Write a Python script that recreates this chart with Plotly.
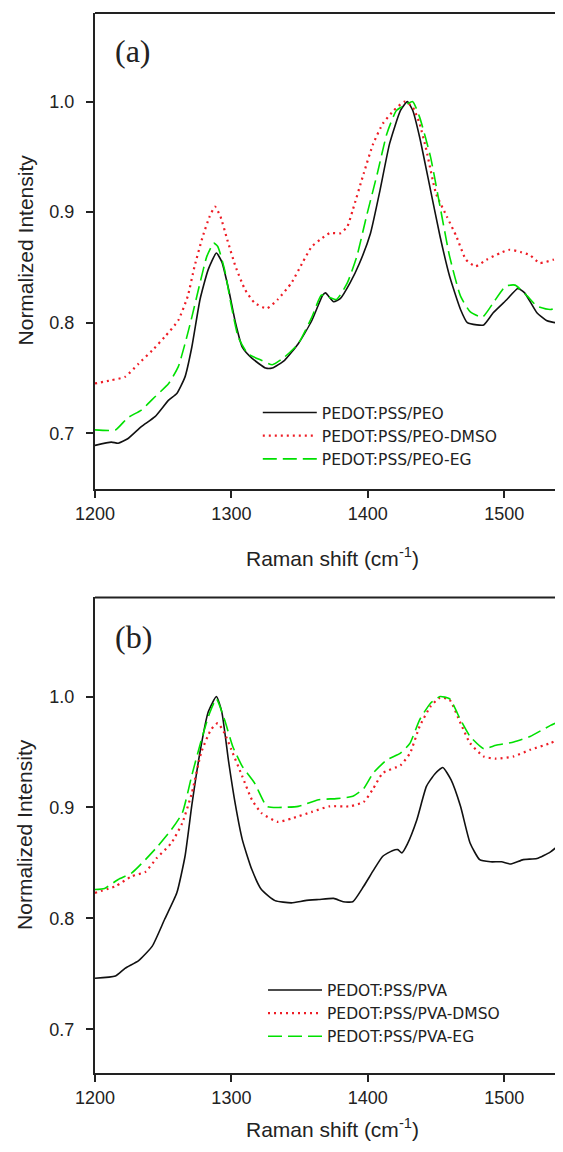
import plotly.graph_objects as go

# ---- panel (a): PEO blends ----
peo_x = [1200, 1212, 1217, 1224, 1234, 1244, 1254, 1260, 1266, 1271, 1277, 1283, 1289, 1293, 1298,
         1303, 1308, 1315, 1325, 1330, 1339, 1349, 1359, 1367, 1369, 1375, 1380, 1387, 1394, 1402,
         1409, 1416, 1424, 1429, 1433, 1438, 1446, 1453, 1460, 1468, 1473, 1480, 1485, 1492, 1502,
         1510, 1515, 1524, 1531, 1538, 1543]
peo_y = [0.689, 0.692, 0.691, 0.695, 0.706, 0.715, 0.730, 0.736, 0.751, 0.778, 0.821, 0.848, 0.863,
         0.855, 0.830, 0.800, 0.778, 0.768, 0.759, 0.759, 0.766, 0.781, 0.802, 0.825, 0.827, 0.819,
         0.822, 0.836, 0.854, 0.881, 0.920, 0.962, 0.992, 1.000, 0.992, 0.968, 0.920, 0.878, 0.842,
         0.812, 0.800, 0.798, 0.798, 0.809, 0.821, 0.831, 0.827, 0.809, 0.802, 0.800, 0.801]

peo_dmso_x = [1200, 1212, 1222, 1232, 1242, 1251, 1261, 1268, 1273, 1279, 1284, 1288, 1292, 1297,
              1303, 1310, 1317, 1326, 1334, 1344, 1352, 1359, 1365, 1372, 1380, 1385, 1389, 1397,
              1404, 1411, 1419, 1427, 1433, 1438, 1443, 1450, 1458, 1465, 1472, 1479, 1487, 1497,
              1504, 1512, 1519, 1526, 1536, 1543]
peo_dmso_y = [0.745, 0.748, 0.751, 0.763, 0.775, 0.787, 0.802, 0.824, 0.851, 0.878, 0.896, 0.905,
              0.896, 0.875, 0.851, 0.830, 0.818, 0.813, 0.821, 0.836, 0.854, 0.869, 0.875, 0.881,
              0.881, 0.887, 0.902, 0.935, 0.962, 0.980, 0.992, 1.000, 0.995, 0.980, 0.956, 0.917,
              0.896, 0.878, 0.857, 0.851, 0.857, 0.863, 0.866, 0.864, 0.861, 0.854, 0.857, 0.860]

peo_eg_x = [1200, 1215, 1224, 1234, 1244, 1254, 1261, 1266, 1271, 1277, 1282, 1287, 1290, 1295,
            1300, 1305, 1312, 1322, 1330, 1339, 1349, 1359, 1366, 1370, 1377, 1385, 1392, 1399,
            1407, 1414, 1421, 1429, 1433, 1438, 1446, 1453, 1460, 1468, 1475, 1484, 1492, 1501,
            1508, 1517, 1524, 1534, 1543]
peo_eg_y = [0.703, 0.703, 0.714, 0.721, 0.733, 0.745, 0.760, 0.781, 0.805, 0.836, 0.860, 0.872,
            0.869, 0.848, 0.815, 0.787, 0.772, 0.766, 0.762, 0.769, 0.781, 0.805, 0.825, 0.824,
            0.821, 0.836, 0.860, 0.896, 0.935, 0.971, 0.992, 0.998, 1.000, 0.986, 0.950, 0.905,
            0.860, 0.824, 0.810, 0.805, 0.818, 0.833, 0.834, 0.824, 0.815, 0.812, 0.816]

# ---- panel (b): PVA blends ----
pva_x = [1200, 1215, 1222, 1232, 1242, 1251, 1260, 1266, 1271, 1277, 1283, 1289, 1293, 1298, 1303,
         1308, 1315, 1322, 1332, 1344, 1354, 1364, 1375, 1382, 1389, 1397, 1404, 1411, 1418, 1422,
         1425, 1429, 1436, 1443, 1449, 1455, 1461, 1468, 1475, 1482, 1490, 1498, 1505, 1514, 1524,
         1534, 1543]
pva_y = [0.746, 0.748, 0.755, 0.762, 0.775, 0.799, 0.823, 0.856, 0.902, 0.950, 0.986, 1.000, 0.986,
         0.941, 0.902, 0.871, 0.844, 0.826, 0.816, 0.814, 0.816, 0.817, 0.818, 0.815, 0.815, 0.829,
         0.843, 0.856, 0.861, 0.862, 0.859, 0.867, 0.889, 0.919, 0.930, 0.936, 0.925, 0.901, 0.868,
         0.853, 0.851, 0.851, 0.849, 0.853, 0.854, 0.860, 0.869]

pva_dmso_x = [1200, 1215, 1227, 1237, 1245, 1256, 1264, 1271, 1278, 1285, 1290, 1295, 1300, 1308,
              1315, 1322, 1334, 1344, 1359, 1372, 1387, 1397, 1404, 1411, 1424, 1431, 1438, 1446,
              1453, 1460, 1468, 1475, 1485, 1494, 1507, 1519, 1534, 1543]
pva_dmso_y = [0.823, 0.829, 0.838, 0.842, 0.854, 0.868, 0.886, 0.913, 0.950, 0.970, 0.976, 0.967,
              0.952, 0.928, 0.907, 0.895, 0.887, 0.890, 0.896, 0.901, 0.901, 0.905, 0.917, 0.931,
              0.938, 0.949, 0.973, 0.991, 0.999, 0.997, 0.976, 0.958, 0.946, 0.944, 0.946, 0.952,
              0.958, 0.963]

pva_eg_x = [1200, 1207, 1217, 1227, 1237, 1246, 1256, 1264, 1271, 1278, 1284, 1289, 1295, 1301,
            1308, 1317, 1326, 1334, 1349, 1364, 1377, 1389, 1397, 1404, 1414, 1424, 1431, 1438,
            1446, 1453, 1460, 1468, 1475, 1485, 1494, 1507, 1519, 1534, 1543]
pva_eg_y = [0.826, 0.827, 0.835, 0.841, 0.853, 0.865, 0.880, 0.895, 0.929, 0.961, 0.985, 0.998,
            0.979, 0.955, 0.937, 0.922, 0.901, 0.900, 0.901, 0.907, 0.908, 0.910, 0.917, 0.931,
            0.943, 0.949, 0.958, 0.979, 0.994, 1.000, 0.998, 0.979, 0.964, 0.953, 0.956, 0.959,
            0.964, 0.974, 0.979]

BLACK = '#111111'
RED = '#ee1c25'
GREEN = '#00e000'
AXIS = '#222222'
TICK_FONT = dict(family='Arial, Liberation Sans', size=18, color=AXIS)

fig = go.Figure()


def add_series(x, y, name, color, dash, width, xa, ya, legend):
    fig.add_trace(
        go.Scatter(
            x=x, y=y, name=name, mode='lines',
            line=dict(color=color, dash=dash, width=width, shape='spline', smoothing=0.5),
            xaxis=xa, yaxis=ya, legend=legend,
        )
    )


add_series(peo_x, peo_y, 'PEDOT:PSS/PEO', BLACK, 'solid', 1.6, 'x', 'y', 'legend')
add_series(peo_dmso_x, peo_dmso_y, 'PEDOT:PSS/PEO-DMSO', RED, '2px,4px', 2.2, 'x', 'y', 'legend')
add_series(peo_eg_x, peo_eg_y, 'PEDOT:PSS/PEO-EG', GREEN, '14px,6px', 1.6, 'x', 'y', 'legend')

add_series(pva_x, pva_y, 'PEDOT:PSS/PVA', BLACK, 'solid', 1.6, 'x2', 'y2', 'legend2')
add_series(pva_dmso_x, pva_dmso_y, 'PEDOT:PSS/PVA-DMSO', RED, '2px,4px', 2.2, 'x2', 'y2', 'legend2')
add_series(pva_eg_x, pva_eg_y, 'PEDOT:PSS/PVA-EG', GREEN, '14px,6px', 1.6, 'x2', 'y2', 'legend2')

# the original panels are cropped on the right; the plot runs past the window edge
xaxis_style = dict(
    range=[1200, 1549], dtick=100, tick0=1200, showline=True, linewidth=2, linecolor=AXIS,
    mirror=False, ticks='outside', ticklen=7, tickwidth=2, tickcolor=AXIS,
    showgrid=False, zeroline=False, tickfont=TICK_FONT,
)
yaxis_style = dict(
    dtick=0.1, tick0=0.7, tickformat='.1f', showline=True, linewidth=2, linecolor=AXIS,
    mirror=False, ticks='outside', ticklen=7, tickwidth=2, tickcolor=AXIS, ticklabelstandoff=8,
    showgrid=False, zeroline=False, tickfont=TICK_FONT,
)

legend_style = dict(
    xanchor='left', yanchor='top', bgcolor='rgba(0,0,0,0)', borderwidth=0,
    font=dict(family='DejaVu Sans', size=15.5, color=AXIS),
    itemwidth=54, tracegroupgap=0,
)

# the page body keeps an 8px margin, so the figure starts 8px in from the corner
fig.update_layout(
    width=563, height=1136,
    margin=dict(l=87, r=0, t=5, b=71),
    paper_bgcolor='white', plot_bgcolor='white',
    xaxis=dict(domain=[0, 1], anchor='y', **xaxis_style),
    yaxis=dict(domain=[0.551, 1.0], anchor='x', range=[0.6496, 1.0802], **yaxis_style),
    xaxis2=dict(domain=[0, 1], anchor='y2', **xaxis_style),
    yaxis2=dict(domain=[0.0, 0.4486], anchor='x2', range=[0.6606, 1.0893], **yaxis_style),
    legend=dict(x=0.342, y=0.6387, **legend_style),
    legend2=dict(x=0.353, y=0.094, **legend_style),
    showlegend=True,
)

# top frame line of each panel
for xr, yr in (('x domain', 'y domain'), ('x2 domain', 'y2 domain')):
    fig.add_shape(type='line', xref=xr, yref=yr, x0=0, x1=1, y0=1, y1=1,
                  line=dict(color=AXIS, width=2))

title_font = dict(family='Arial, Liberation Sans', size=21, color=AXIS)
label_font = dict(family='Times New Roman, Liberation Serif', size=32, color=AXIS)

# paper x is measured over the 476px plot width that starts at page x=95
annotations = [
    dict(text='(a)', x=0.080, y=0.9637, yanchor='middle', font=label_font),
    dict(text='(b)', x=0.080, y=0.4115, yanchor='middle', font=label_font),
    dict(text='Normalized Intensity', x=-0.147, y=0.776, yanchor='middle', textangle=-90,
         font=title_font),
    dict(text='Normalized Intensity', x=-0.147, y=0.2246, yanchor='middle', textangle=-90,
         font=title_font),
    dict(text='Raman shift (cm<sup>-1</sup>)', x=0.498, y=0.487, yanchor='middle', font=title_font),
    dict(text='Raman shift (cm<sup>-1</sup>)', x=0.498, y=-0.066, yanchor='bottom',
         font=title_font),
]
for a in annotations:
    fig.add_annotation(xref='paper', yref='paper', xanchor='center', showarrow=False, **a)

fig.write_html('out.html')
